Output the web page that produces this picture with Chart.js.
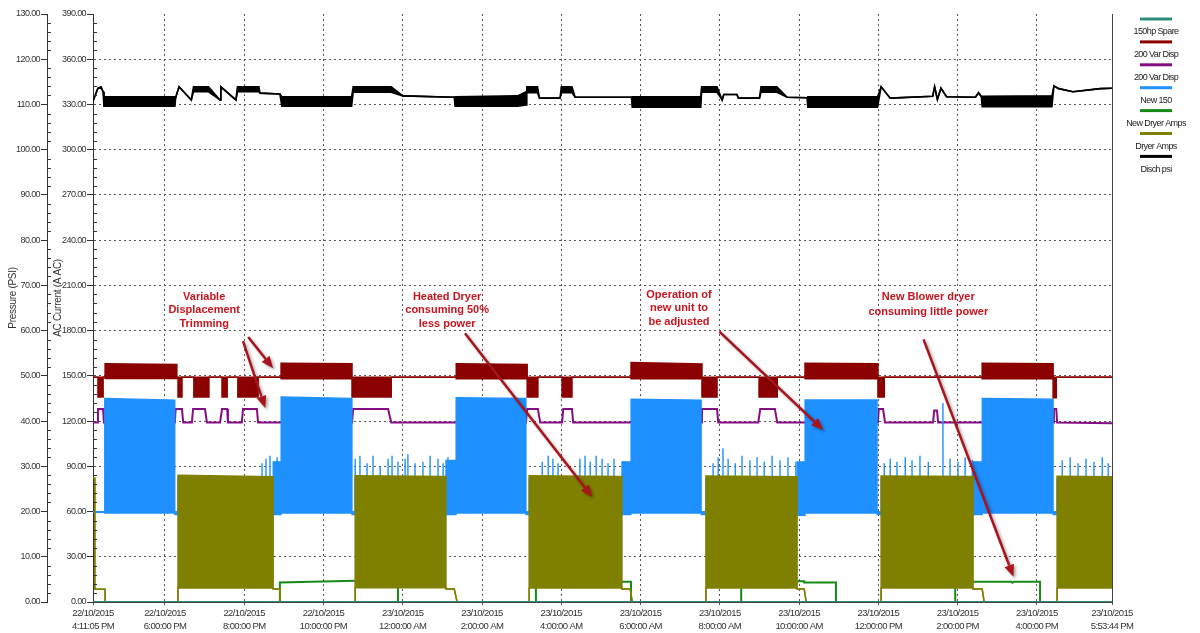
<!DOCTYPE html>
<html><head><meta charset="utf-8">
<script src="https://cdn.jsdelivr.net/npm/chart.js@4.4.1/dist/chart.umd.min.js"></script>
<style>html,body{margin:0;padding:0;background:#fff;}canvas{display:block;}</style>
</head><body>
<canvas id="c" width="1200" height="633"></canvas>
<script>
// ---- time axis (hours since 22/10/2015 00:00) ----
const xTickHours = [16.184722, 18, 20, 22, 24, 26, 28, 30, 32, 34, 36, 38, 40, 41.895556];
const xTickLabels = [
  ["22/10/2015","4:11:05 PM"],["22/10/2015","6:00:00 PM"],["22/10/2015","8:00:00 PM"],["22/10/2015","10:00:00 PM"],
  ["23/10/2015","12:00:00 AM"],["23/10/2015","2:00:00 AM"],["23/10/2015","4:00:00 AM"],["23/10/2015","6:00:00 AM"],
  ["23/10/2015","8:00:00 AM"],["23/10/2015","10:00:00 AM"],["23/10/2015","12:00:00 PM"],["23/10/2015","2:00:00 PM"],
  ["23/10/2015","4:00:00 PM"],["23/10/2015","5:53:44 PM"]];

const seriesNames = ['150hp Spare','200 Var Disp','200 Var Disp','New 150','New Dryer Amps','Dryer Amps','Disch psi'];
const seriesColors = ['#2e8b7f','#8b0000','#850d85','#1e90ff','#168a16','#808000','#000000'];

// 150hp Spare (A)
const tealT = [16.185, 41.896];
const tealV = [0, 0];

// 200 Var Disp #1 (A) - envelope hi/lo
const redT  = [16.185,16.31,16.31,16.44,16.44,16.49,16.49,18.30,18.30,18.33,18.33,18.43,18.43,18.73,18.73,19.11,19.11,19.44,19.44,19.57,19.57,19.84,19.84,20.35,20.35,20.93,20.93,22.72,22.72,23.71,23.71,25.35,25.35,27.14,27.14,27.41,27.41,28.02,28.02,28.27,28.27,29.76,29.76,31.55,31.55,31.93,31.93,32.99,32.99,33.45,33.45,34.15,34.15,35.99,35.99,36.15,36.15,38.62,38.62,40.41,40.41,40.49,40.49,41.896];
const redHi = [149,149,149,149,149,149,158,157.5,149,149,149,149,149,149,149,149,149,149,149,149,149,149,149,149,149,149,158.3,158,149,149,149,149,158,157.5,149,149,149,149,149,149,149,149,158.8,157.8,149,149,149,149,149,149,149,149,158.3,158,149,149,149,149,158.3,158,149,149,149,149];
const redLo = [149,149,136,136,149,149,148.3,148.3,149,149,136,136,149,149,136,136,149,149,136,136,149,149,136,136,149,149,148,148,136,136,149,149,148,148,136,136,149,149,136,136,149,149,148,148,136,136,149,149,136,136,149,149,148,148,136,136,149,149,148,148,135.5,135.5,149,149];

// 200 Var Disp #2 (A)
const purpleT = [16.185,16.29,16.31,16.44,16.46,18.25,18.27,18.43,18.46,18.68,18.71,19.01,19.06,19.39,19.44,19.57,19.59,19.94,19.97,20.32,20.35,22.72,22.75,23.63,23.71,27.11,27.14,27.41,27.47,28.02,28.05,28.27,28.30,31.53,31.55,31.93,31.96,32.97,33.02,33.39,33.45,35.99,36.01,36.12,36.17,37.38,37.41,37.48,37.51,40.41,40.43,40.49,40.51,41.896];
const purpleV = [119,119,128,128,119,119,128,128,119,119,128,128,119,119,128,128,119,119,128,128,119,119,128,128,119,119,128,128,119,119,128,128,119,119,128,128,119,119,128,128,119,119,128,128,119,119,127,127,119,119,128,128,119,118.5];

// New 150 (A) - envelope hi/lo
const blueT  = [16.185,16.48,16.48,18.25,18.25,18.33,18.33,20.73,20.73,20.93,20.93,22.72,22.72,22.80,22.80,25.09,25.09,25.345,25.345,27.11,27.11,27.19,27.19,29.53,29.53,29.76,29.76,31.53,31.53,31.65,31.65,33.95,33.95,34.15,34.15,35.97,35.97,36.07,36.07,38.39,38.39,38.62,38.62,40.41,40.41,40.51,40.51,41.896];
const blueHi = [60,60,135,134,60,60,82,82,93,93,136,135,60,60,82,82,94,94,135.5,135,60,60,82,82,93,93,134.5,134,60,60,82,82,93,93,134,134,60,60,82,82,93,93,135,134.5,60,60,82,82];
const blueLo = [59.5,59.5,59,59,58,58,58,58,58,58,59,59,58,58,58,58,58,58,59,59,58,58,58,58,58,58,59,59,58,58,58,58,57.5,57.5,59,59,58,58,58,58,58,58,59,59,58,58,58,58];
// New 150 short spikes while unloaded (A)
const blueSpikeBase = 60;
const blueSpikeT = [20.45,20.55,20.65,20.75,20.83, 22.80,22.92,23.10,23.25,23.43,23.63,23.73,23.88,24.06,24.13,24.31,24.51,24.69,24.89,25.02,25.14,25.27, 27.52,27.67,27.79,27.92,28.47,28.60,28.73,28.88,29.03,29.18,29.33, 31.83,31.96,32.08,32.21,32.39,32.56,32.76,32.94,33.12,33.32,33.52,33.72,33.92, 36.15,36.30,36.47,36.68,36.85,37.05,37.26,37.63,37.81,38.01,38.19,38.37,38.52, 40.64,40.84,41.04,41.24,41.44,41.65,41.80];
const blueSpikeTop = [92,95,97,93,96, 95,97,92,97,90,95,97,93,95,98,92,93,97,95,92,96,93, 93,97,95,92,95,97,93,97,95,92,95, 92,96,102,95,92,97,94,96,93,97,94,96,93, 92,95,93,96,94,97,93,132,95,93,96,94,92, 94,96,92,95,93,96,92];

// New Dryer Amps (A)
const greenT = [16.185,20.90,20.90,22.80,23.88,23.88,27.36,27.36,29.76,29.76,32.54,32.54,34.13,34.13,34.93,34.93,37.94,37.94,39.35,39.38,39.42,40.08,40.08,41.896];
const greenV = [0,0,13.0,14.1,14.1,0,0,13.5,13.5,0,0,13.8,13.8,13.0,13.0,0,0,13.5,13.5,12.8,13.5,13.5,0,0];

// Dryer Amps (A) - envelope hi/lo
const dryerT  = [16.185,16.23,16.23,16.49,16.49,18.33,18.33,20.73,20.73,20.90,20.90,22.80,22.80,25.09,25.09,25.30,25.37,27.19,27.19,29.53,29.53,29.74,29.79,31.65,31.65,33.95,33.95,34.13,34.18,36.07,36.07,38.39,38.39,38.62,38.67,40.51,40.51,41.896];
const dryerHi = [82,82,8.5,8.5,0,0,84,83,8.6,8.6,0,0,83.8,83.2,8.6,8.6,0,0,83.8,83.2,8.6,8.6,0,0,83.6,83.0,8.6,8.6,0,0,83.6,83.2,8.6,8.6,0,0,83.4,83.0];
const dryerLo = [82,82,8.5,8.5,0,0,9.3,9.3,8.6,8.6,0,0,9.5,9.5,8.6,8.6,0,0,9.3,9.3,8.6,8.6,0,0,9.3,9.3,8.6,8.6,0,0,9.3,9.3,8.6,8.6,0,0,9.3,9.3];

// Disch psi (PSI) - envelope hi/lo
const blackT  = [16.185,16.31,16.39,16.44,16.46,18.25,18.27,18.355,18.665,18.72,19.10,19.39,19.41,19.79,19.83,20.37,20.40,20.90,20.95,22.71,22.75,23.71,24.00,25.30,25.32,26.90,27.11,27.13,27.40,27.45,27.97,28.00,28.27,28.35,28.73,29.77,29.79,31.52,31.54,31.93,32.06,32.10,32.43,32.47,33.00,33.04,33.44,33.70,34.20,34.22,35.98,36.07,36.30,37.37,37.42,37.49,37.58,37.72,38.45,38.53,38.60,38.62,40.38,40.43,40.55,40.91,41.60,41.896];
const blackHi = [110.8,113.6,113.9,112.8,111.7,111.7,111.5,113.9,111.0,113.9,113.9,111.0,113.9,111.0,113.9,113.9,112.5,112.3,111.7,111.7,113.9,113.9,111.9,111.6,111.7,111.9,112.8,113.9,113.9,111.4,111.4,113.9,113.9,111.6,111.6,111.6,111.7,111.7,113.9,113.9,111.0,112.2,112.2,111.4,111.4,113.9,113.9,111.6,111.5,111.7,111.7,113.9,111.4,111.8,113.9,111.1,113.6,111.7,111.6,112.6,111.7,111.8,111.9,114.1,113.5,112.8,113.5,113.6];
const blackLo = [110.8,113.6,113.6,112.8,109.6,109.6,111.5,113.9,111.0,112.8,112.8,111.0,113.9,111.0,112.8,112.8,112.5,112.3,109.6,109.6,112.7,112.7,111.9,111.6,109.6,109.6,109.9,112.6,112.6,111.4,111.4,112.6,112.6,111.6,111.6,111.6,109.4,109.4,112.7,112.7,111.0,112.2,112.2,111.4,111.4,112.7,112.7,111.6,111.5,109.4,109.4,113.9,111.4,111.8,113.9,111.1,113.6,111.7,111.6,112.6,111.7,109.5,109.5,114.1,113.5,112.8,113.5,113.6];

// annotations (hours, amps)
const noteLines = [['Variable','Displacement','Trimming'],['Heated Dryer','consuming 50%','less power'],['Operation of','new unit to','be adjusted'],['New Blower dryer','consuming little power']];
const noteAt = [[18.99,202.3],[25.12,202.3],[30.97,203.6],[37.26,202.3]];
const arrowFrom = [[20.10,175.8],[19.97,173.1],[25.57,178.2],[31.99,179.3],[37.14,174.2]];
const arrowTo   = [[20.73,155.0],[20.53,128.7],[28.78,69.6],[34.61,114.1],[39.41,16.8]];

const titlePressure = 'Pressure (PSI)';
const titleCurrent = 'AC Current (A AC)';

const FONT = "'Liberation Sans',Arial,sans-serif";

const pts = (T, V) => T.map((t, i) => ({x: t, y: V[i]}));
const spikePts = blueSpikeT.flatMap((t, i) => [{x: t, y: blueSpikeBase}, {x: t, y: blueSpikeTop[i]}, {x: t, y: null}]);

const line = (label, data, color, order, extra) => Object.assign({
  label, data, borderColor: color, backgroundColor: color, borderWidth: 2, pointRadius: 0,
  tension: 0, fill: false, order, yAxisID: 'yA', spanGaps: false
}, extra || {});

const datasets = [
  line(seriesNames[0], pts(tealT, tealV), seriesColors[0], 2),
  line(seriesNames[1], pts(redT, redLo), seriesColors[1], 6, {borderWidth: 1.5}),
  line(seriesNames[1], pts(redT, redHi), seriesColors[1], 6, {borderWidth: 1.5, fill: '-1'}),
  line(seriesNames[2], pts(purpleT, purpleV), seriesColors[2], 7),
  line(seriesNames[3], pts(blueT, blueLo), seriesColors[3], 5, {borderWidth: 1.2}),
  line(seriesNames[3], pts(blueT, blueHi), seriesColors[3], 5, {borderWidth: 1.2, fill: '-1'}),
  line(seriesNames[3], spikePts, seriesColors[3], 5, {borderWidth: 1.4}),
  line(seriesNames[4], pts(greenT, greenV), seriesColors[4], 4),
  line(seriesNames[5], pts(dryerT, dryerLo), seriesColors[5], 3, {borderWidth: 1.5}),
  line(seriesNames[5], pts(dryerT, dryerHi), seriesColors[5], 3, {borderWidth: 1.5, fill: '-1'}),
  line(seriesNames[6], pts(blackT, blackLo), seriesColors[6], 1, {borderWidth: 1.6, yAxisID: 'yP'}),
  line(seriesNames[6], pts(blackT, blackHi), seriesColors[6], 1, {borderWidth: 1.6, yAxisID: 'yP', fill: '-1'})
];

function drawArrow(ctx, x1, y1, x2, y2) {
  const ang = Math.atan2(y2 - y1, x2 - x1);
  const hl = 12, hw = 5;
  const bx = x2 - hl * Math.cos(ang), by = y2 - hl * Math.sin(ang);
  ctx.save();
  ctx.shadowColor = 'rgba(0,0,0,0.35)'; ctx.shadowBlur = 3; ctx.shadowOffsetX = 2; ctx.shadowOffsetY = 2;
  ctx.strokeStyle = '#a8141c'; ctx.fillStyle = '#a8141c'; ctx.lineWidth = 2.5;
  ctx.beginPath(); ctx.moveTo(x1, y1); ctx.lineTo(bx, by); ctx.stroke();
  ctx.beginPath(); ctx.moveTo(x2, y2);
  ctx.lineTo(bx + hw * Math.sin(ang), by - hw * Math.cos(ang));
  ctx.lineTo(bx - hw * Math.sin(ang), by + hw * Math.cos(ang));
  ctx.closePath(); ctx.fill();
  ctx.restore();
}

const narrowText = {
  id: 'narrowText',
  beforeUpdate(chart) { chart.ctx.letterSpacing = '-0.6px'; },
  beforeDraw(chart) { chart.ctx.letterSpacing = '-0.6px'; }
};

const decor = {
  id: 'decor',
  afterDraw(chart) {
    const ctx = chart.ctx, ca = chart.chartArea;
    const sx = chart.scales.x, sA = chart.scales.yA, sP = chart.scales.yP;
    ctx.save();
    // right frame
    ctx.strokeStyle = '#444'; ctx.lineWidth = 1;
    const rx = Math.round(ca.right) + 0.5;
    ctx.beginPath(); ctx.moveTo(rx, ca.top); ctx.lineTo(rx, ca.bottom); ctx.stroke();
    // minor ticks
    ctx.strokeStyle = '#333';
    for (let v = 0; v <= 130; v += 2) {
      if (v % 10 === 0) continue;
      const y = Math.round(sP.getPixelForValue(v)) + 0.5;
      ctx.beginPath(); ctx.moveTo(sP.right, y); ctx.lineTo(sP.right + 4, y); ctx.stroke();
    }
    for (let v = 0; v <= 390; v += 6) {
      if (v % 30 === 0) continue;
      const y = Math.round(sA.getPixelForValue(v)) + 0.5;
      ctx.beginPath(); ctx.moveTo(sA.right, y); ctx.lineTo(sA.right + 4, y); ctx.stroke();
    }
    // axis titles
    ctx.fillStyle = '#333'; ctx.font = '10px ' + FONT; ctx.textAlign = 'center'; ctx.textBaseline = 'middle';
    ctx.letterSpacing = '-0.3px';
    const midY = 298;
    ctx.save(); ctx.translate(13, midY); ctx.rotate(-Math.PI / 2); ctx.fillText(titlePressure, 0, 0); ctx.restore();
    ctx.save(); ctx.translate(58, midY); ctx.rotate(-Math.PI / 2); ctx.fillText(titleCurrent, 0, 0); ctx.restore();
    // legend
    ctx.font = '9px ' + FONT; ctx.fillStyle = '#222'; ctx.letterSpacing = '-0.6px';
    const lx = 1156;
    seriesNames.forEach((name, i) => {
      const y = 19 + i * 22.9;
      ctx.strokeStyle = seriesColors[i]; ctx.lineWidth = 3;
      ctx.beginPath(); ctx.moveTo(lx - 16, y); ctx.lineTo(lx + 16, y); ctx.stroke();
      ctx.fillText(name, lx, y + 13);
    });
    // annotations
    ctx.fillStyle = '#c8141e'; ctx.font = 'bold 11px ' + FONT; ctx.letterSpacing = '0px';
    noteLines.forEach((lines, k) => {
      const cx = sx.getPixelForValue(noteAt[k][0]);
      const cy = sA.getPixelForValue(noteAt[k][1]);
      const gap = lines.length === 2 ? 15 : 13.3;
      lines.forEach((t, j) => ctx.fillText(t, cx, cy + j * gap));
    });
    arrowFrom.forEach((f, k) => {
      drawArrow(ctx, sx.getPixelForValue(f[0]), sA.getPixelForValue(f[1]),
        sx.getPixelForValue(arrowTo[k][0]), sA.getPixelForValue(arrowTo[k][1]));
    });
    ctx.restore();
  }
};

new Chart(document.getElementById('c'), {
  type: 'line',
  data: {datasets},
  plugins: [narrowText, decor],
  options: {
    responsive: false, animation: false, devicePixelRatio: 1, events: [],
    layout: {padding: {left: 0, right: 88, top: 14, bottom: 0}},
    plugins: {legend: {display: false}, tooltip: {enabled: false}},
    scales: {
      x: {
        type: 'linear', min: xTickHours[0], max: xTickHours[xTickHours.length - 1], offset: false,
        afterBuildTicks: s => { s.ticks = xTickHours.map(v => ({value: v})); },
        afterFit: s => { s.height = 31; },
        ticks: {autoSkip: false, maxRotation: 0, minRotation: 0, padding: 0, color: '#333',
          font: {family: FONT, size: 9.5, lineHeight: 1.45},
          callback: (v, i) => xTickLabels[i]},
        grid: {offset: false, color: c => (c.index === 0 || c.index === xTickHours.length - 1) ? 'rgba(0,0,0,0)' : '#555',
          tickColor: '#555', tickLength: 4, tickBorderDash: [2, 2], lineWidth: 1},
        border: {display: true, color: '#444', dash: [2, 3]}
      },
      yA: {
        type: 'linear', position: 'left', min: 0, max: 390, weight: 0,
        afterFit: s => { s.width = 46; },
        ticks: {stepSize: 30, padding: 1, color: '#333', font: {family: FONT, size: 9}, callback: v => Number(v).toFixed(2)},
        grid: {color: c => (c.tick && c.tick.value === 390) ? 'rgba(0,0,0,0)' : '#555', tickColor: '#333', tickLength: 6, tickBorderDash: []},
        border: {display: true, color: '#333', dash: [2, 3]}
      },
      yP: {
        type: 'linear', position: 'left', min: 0, max: 130, weight: 1,
        afterFit: s => { s.width = 47; },
        ticks: {stepSize: 10, padding: 1, color: '#333', font: {family: FONT, size: 9}, callback: v => Number(v).toFixed(2)},
        grid: {drawOnChartArea: false, tickColor: '#333', tickLength: 6},
        border: {display: true, color: '#333'}
      }
    }
  }
});
</script>
</body></html>
